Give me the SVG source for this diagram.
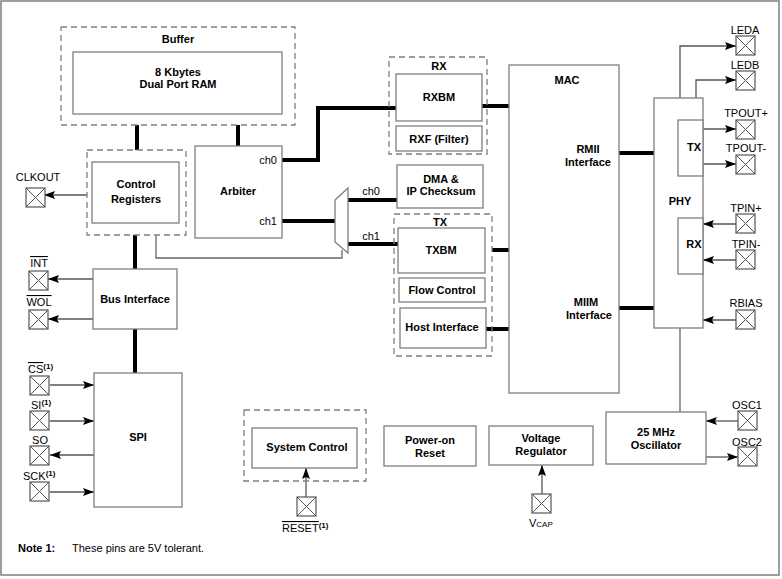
<svg xmlns="http://www.w3.org/2000/svg" width="782" height="579" viewBox="0 0 782 579">
<style>
.box{fill:#fff;stroke:#7f7f7f;stroke-width:1.3}
.dash{fill:none;stroke:#7f7f7f;stroke-width:1.3;stroke-dasharray:6,4}
.bus{fill:none;stroke:#000;stroke-width:4}
.wire{fill:none;stroke:#666;stroke-width:1.3}
.arr{fill:none;stroke:#555;stroke-width:1.3;marker-end:url(#ah)}
.t{font-family:"Liberation Sans",Arial,sans-serif;font-size:11px;font-weight:bold;fill:#000;text-anchor:middle}
.l{font-family:"Liberation Sans",Arial,sans-serif;font-size:11px;fill:#000;text-anchor:middle}
.s{text-anchor:start}
</style>
<defs>
<marker id="ah" markerUnits="userSpaceOnUse" markerWidth="12" markerHeight="8" refX="11" refY="4" orient="auto">
<path d="M0,0 L11,4 L0,8 L2,4 z" fill="#000"/>
</marker>
<symbol id="pin" viewBox="0 0 19 19" width="19" height="19" overflow="visible">
<rect x="0" y="0" width="19" height="19" fill="#fff" stroke="#555" stroke-width="1.2"/>
<path d="M0,0 L19,19 M19,0 L0,19" stroke="#555" stroke-width="1"/>
</symbol>
</defs>
<rect x="1" y="1" width="778" height="574" fill="#fff" stroke="#7f7f7f" stroke-width="1.5"/>

<g id="connectors">
<path class="bus" d="M137,125 V150"/>
<path class="bus" d="M238,125 V146"/>
<path class="bus" d="M282,160 H318 V108 H397"/>
<path class="bus" d="M282,221 H335"/>
<path class="bus" d="M348,200 H397"/>
<path class="bus" d="M348,244 H398"/>
<path class="bus" d="M482,106 H509"/>
<path class="bus" d="M492,250 H509"/>
<path class="bus" d="M486,329 H509"/>
<path class="bus" d="M619,153 H654"/>
<path class="bus" d="M619,308 H654"/>
<path class="bus" d="M135,235 V269"/>
<path class="bus" d="M135,329 V373"/>
<path class="wire" d="M156,235 V258 H342 V250"/>
<path class="wire" d="M680,328 V412"/>
<path class="arr" d="M87,195 H44"/>
<path class="arr" d="M93,279 H48"/>
<path class="arr" d="M93,319 H48"/>
<path class="arr" d="M50,385 H94"/>
<path class="arr" d="M50,421 H94"/>
<path class="arr" d="M94,455 H50"/>
<path class="arr" d="M50,492 H94"/>
<path class="arr" d="M680,98 V46 H736"/>
<path class="arr" d="M696,98 V80 H736"/>
<path class="arr" d="M703,129 H736"/>
<path class="arr" d="M703,164 H736"/>
<path class="arr" d="M736,224 H703"/>
<path class="arr" d="M736,260 H703"/>
<path class="arr" d="M736,320 H703"/>
<path class="arr" d="M738,421 H706"/>
<path class="arr" d="M706,457 H738"/>
<path class="arr" d="M306,497 V468"/>
<path class="arr" d="M542,494 V465"/>
</g>

<g id="buffer">
<rect class="dash" x="61" y="27" width="234" height="98"/>
<text class="t" x="178" y="43">Buffer</text>
<rect class="box" x="73" y="52" width="209" height="62"/>
<text class="t" x="178" y="76">8 Kbytes</text>
<text class="t" x="178" y="88">Dual Port RAM</text>
</g>

<g id="control-registers">
<rect class="dash" x="87" y="150" width="99" height="85"/>
<rect class="box" x="92" y="162" width="87" height="61"/>
<text class="t" x="136" y="188">Control</text>
<text class="t" x="136" y="203">Registers</text>
</g>

<g id="arbiter">
<rect class="box" x="195" y="146" width="87" height="92"/>
<text class="t" x="238" y="195">Arbiter</text>
<text class="l" x="268" y="164">ch0</text>
<text class="l" x="268" y="225">ch1</text>
</g>

<g id="mux">
<polygon class="box" points="335,200 348,188 348,253 335,242"/>
<text class="l" x="371" y="195">ch0</text>
<text class="l" x="371" y="240">ch1</text>
</g>

<g id="rx">
<rect class="dash" x="389" y="57" width="98" height="97"/>
<text class="t" x="439" y="70">RX</text>
<rect class="box" x="396" y="74" width="86" height="47"/>
<text class="t" x="439" y="101">RXBM</text>
<rect class="box" x="396" y="126" width="86" height="25"/>
<text class="t" x="439" y="143">RXF (Filter)</text>
</g>

<g id="dma">
<rect class="box" x="397" y="165" width="86" height="43"/>
<text class="t" x="441" y="183">DMA &amp;</text>
<text class="t" x="441" y="195">IP Checksum</text>
</g>

<g id="tx">
<rect class="dash" x="394" y="214" width="98" height="142"/>
<text class="t" x="440" y="226">TX</text>
<rect class="box" x="398" y="228" width="87" height="45"/>
<text class="t" x="441" y="254">TXBM</text>
<rect class="box" x="399" y="278" width="86" height="24"/>
<text class="t" x="442" y="294">Flow Control</text>
<rect class="box" x="400" y="308" width="86" height="40"/>
<text class="t" x="442" y="331">Host Interface</text>
</g>

<g id="mac">
<rect class="box" x="509" y="65" width="110" height="328"/>
<text class="t" x="567" y="84">MAC</text>
<text class="t" x="588" y="153">RMII</text>
<text class="t" x="588" y="166">Interface</text>
<text class="t" x="586" y="306">MIIM</text>
<text class="t" x="589" y="319">Interface</text>
</g>

<g id="phy">
<rect class="box" x="654" y="98" width="49" height="230"/>
<text class="t" x="680" y="205">PHY</text>
<rect class="box" x="678" y="120" width="25" height="56"/>
<text class="t" x="694" y="151">TX</text>
<rect class="box" x="678" y="218" width="25" height="56"/>
<text class="t" x="694" y="248">RX</text>
</g>

<g id="oscillator">
<rect class="box" x="606" y="412" width="100" height="52"/>
<text class="t" x="656" y="436">25 MHz</text>
<text class="t" x="656" y="449">Oscillator</text>
</g>

<g id="bus-interface">
<rect class="box" x="93" y="269" width="84" height="60"/>
<text class="t" x="135" y="303">Bus Interface</text>
</g>

<g id="spi">
<rect class="box" x="94" y="373" width="88" height="134"/>
<text class="t" x="138" y="441">SPI</text>
</g>

<g id="system-control">
<rect class="dash" x="244" y="410" width="122" height="71"/>
<rect class="box" x="252" y="428" width="105" height="40"/>
<text class="t" x="307" y="451">System Control</text>
</g>

<g id="power-on-reset">
<rect class="box" x="384" y="426" width="92" height="40"/>
<text class="t" x="430" y="444">Power-on</text>
<text class="t" x="430" y="457">Reset</text>
</g>

<g id="voltage-regulator">
<rect class="box" x="489" y="426" width="104" height="39"/>
<text class="t" x="541" y="442">Voltage</text>
<text class="t" x="541" y="455">Regulator</text>
</g>

<g id="pins">
<use href="#pin" x="26" y="188"/>
<text class="l" x="38" y="181">CLKOUT</text>
<use href="#pin" x="29" y="271"/>
<text class="l" x="39" y="267"><tspan text-decoration="overline">INT</tspan></text>
<use href="#pin" x="29" y="310"/>
<text class="l" x="39" y="306"><tspan text-decoration="overline">WOL</tspan></text>
<use href="#pin" x="30" y="376"/>
<text class="l s" x="28" y="373"><tspan text-decoration="overline">CS</tspan><tspan font-size="8" font-weight="bold" dy="-4">(1)</tspan></text>
<use href="#pin" x="30" y="411"/>
<text class="l s" x="31" y="409">SI<tspan font-size="8" font-weight="bold" dy="-4">(1)</tspan></text>
<use href="#pin" x="30" y="446"/>
<text class="l" x="40" y="444">SO</text>
<use href="#pin" x="30" y="482"/>
<text class="l s" x="23" y="480">SCK<tspan font-size="8" font-weight="bold" dy="-4">(1)</tspan></text>
<use href="#pin" x="736" y="36"/>
<text class="l" x="745" y="34">LEDA</text>
<use href="#pin" x="736" y="71"/>
<text class="l" x="745" y="69">LEDB</text>
<use href="#pin" x="736" y="120"/>
<text class="l" x="746" y="117">TPOUT+</text>
<use href="#pin" x="736" y="155"/>
<text class="l" x="746" y="152">TPOUT-</text>
<use href="#pin" x="736" y="214"/>
<text class="l" x="746" y="212">TPIN+</text>
<use href="#pin" x="736" y="250"/>
<text class="l" x="746" y="248">TPIN-</text>
<use href="#pin" x="736" y="310"/>
<text class="l" x="746" y="307">RBIAS</text>
<use href="#pin" x="738" y="411"/>
<text class="l" x="747" y="409">OSC1</text>
<use href="#pin" x="738" y="447"/>
<text class="l" x="747" y="446">OSC2</text>
<use href="#pin" x="297" y="497"/>
<text class="l s" x="282" y="532"><tspan text-decoration="overline">RESET</tspan><tspan font-size="8" font-weight="bold" dy="-4">(1)</tspan></text>
<use href="#pin" x="532" y="494"/>
<text class="l s" x="529" y="527">V<tspan font-size="8">CAP</tspan></text>
</g>

<g id="note">
<text class="t s" x="18" y="552">Note 1:</text>
<text class="l s" x="72" y="552">These pins are 5V tolerant.</text>
</g>
</svg>
